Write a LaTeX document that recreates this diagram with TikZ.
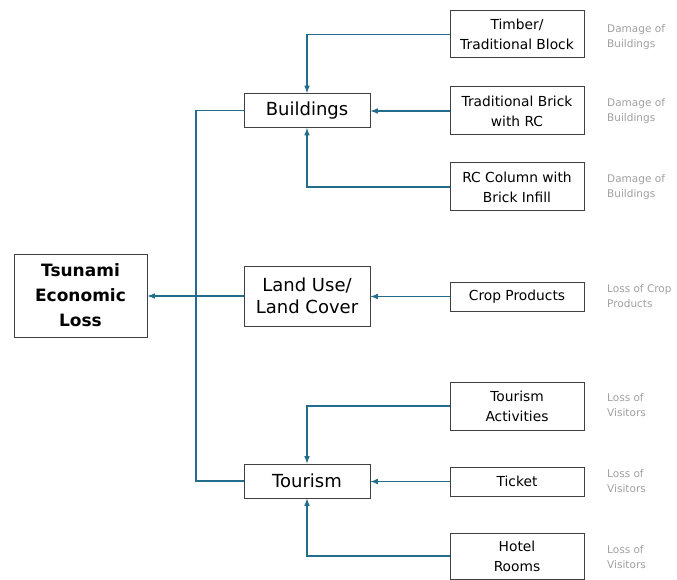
\documentclass[tikz,border=0pt]{standalone}
\usepackage{fontspec}
\setmainfont{DejaVu Sans}
\usetikzlibrary{arrows}

\definecolor{linkblue}{RGB}{35,108,140}
\definecolor{notegray}{RGB}{160,160,160}
\definecolor{boxgray}{RGB}{64,64,64}

\tikzset{
  bigbox/.style={draw=boxgray,line width=1pt,minimum width=126pt,minimum height=34pt,inner sep=0pt,align=center,font=\fontsize{18}{22}\selectfont},
  smallbox/.style={draw=boxgray,line width=1pt,minimum width=134pt,inner sep=0pt,align=center,font=\fontsize{13.8}{20}\selectfont},
  note/.style={anchor=west,align=left,text=notegray,inner sep=0pt,font=\fontsize{10.5}{15}\selectfont},
  link/.style={draw=linkblue,line width=1.5pt,-latex}
}

\begin{document}
\begin{tikzpicture}[x=1pt,y=-1pt]
                 \useasboundingbox (0,0) rectangle (677,580);
                 % main box and second level
                 \node[draw=boxgray,line width=1pt,minimum width=133pt,minimum height=83pt,inner sep=0pt,align=center,font=\fontsize{17}{25}\selectfont\bfseries](tsunami)at(80.5,295.5){Tsunami\\Economic\\Loss};
                 \node[bigbox](buildings)at(307,110.5){Buildings};
                 \node[bigbox,minimum height=60pt](landuse)at(307,296){Land Use/\\Land Cover};
                 \node[bigbox](tourism)at(307,481){Tourism};
                 % third level
                 \node[smallbox,minimum height=47pt](timber)at(517,34.5){Timber/\\Traditional Block};
                 \node[smallbox,minimum height=48pt](brick)at(517,111){Traditional Brick\\with RC};
                 \node[smallbox,minimum height=48pt](rcbrick)at(517,187){RC Column with\\Brick Infill};
                 \node[smallbox,minimum height=29pt](crop)at(517,296.5){Crop Products};
                 \node[smallbox,minimum height=48pt](activity)at(517,406){Tourism\\Activities};
                 \node[smallbox,minimum height=29pt](ticket)at(517,481.5){Ticket};
                 \node[smallbox,minimum height=46pt](hotel)at(517,556){Hotel\\Rooms};
                 % gray notes
                 \node[note](n1)at(607,37){Damage of\\Buildings};
                 \node[note](n2)at(607,111){Damage of\\Buildings};
                 \node[note](n3)at(607,187){Damage of\\Buildings};
                 \node[note](n4)at(607,296){Loss of Crop\\Products};
                 \node[note](n5)at(607,405.5){Loss of\\Visitors};
                 \node[note](n6)at(607,481){Loss of\\Visitors};
                 \node[note](n7)at(607,557){Loss of\\Visitors};
                 % connectors
                 \coordinate(trunk)at(196,296);
                 \draw[link](timber.west)-|(buildings.north);
                 \draw[link](brick.west)--(brick.west-|buildings.east);
                 \draw[link](rcbrick.west)-|(buildings.south);
                 \draw[link](crop.west)--(crop.west-|landuse.east);
                 \draw[link](activity.west)-|(tourism.north);
                 \draw[link](ticket.west)--(ticket.west-|tourism.east);
                 \draw[link](hotel.west)-|(tourism.south);
                 \draw[draw=linkblue,line width=1.5pt](buildings.west)-|(trunk)|-(tourism.west);
                 \draw[link](landuse.west)--(landuse.west-|tsunami.east);
               \end{tikzpicture}
\end{document}
